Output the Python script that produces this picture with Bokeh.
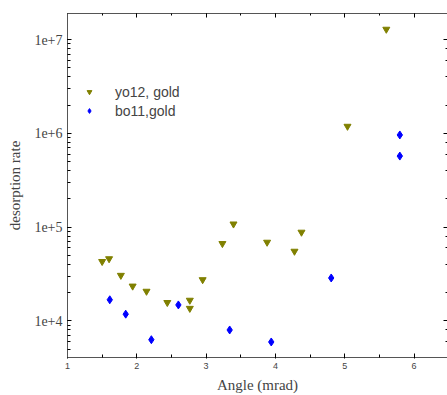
from bokeh.plotting import figure
from bokeh.models import LogAxis, LinearAxis, Legend, LegendItem, CustomJSTickFormatter, Range1d, SingleIntervalTicker
from bokeh.embed import file_html
from bokeh.resources import INLINE

# data
gold_x = [1.50, 1.60, 1.77, 1.94, 2.14, 2.44, 2.765, 2.765, 2.95, 3.235, 3.395, 3.88, 4.275, 4.376, 5.04, 5.60]
gold_y = [43000, 46000, 30600, 23500, 20700, 15700, 16600, 13600, 27500, 66800, 108000, 69000, 55300, 88300, 1.19e6, 1.29e7]
blue_x = [1.61, 1.84, 2.21, 2.60, 3.34, 3.94, 4.805, 5.795, 5.795]
blue_y = [16800, 11800, 6300, 14800, 8000, 5960, 28700, 962000, 573000]
gold_label = "yo12, gold"
blue_label = "bo11,gold"
x_label = "Angle (mrad)"
y_label = "desorption rate"

p = figure(width=447, height=395, output_backend="svg", toolbar_location=None,
           y_axis_type="log", x_range=Range1d(1, 6.483), y_range=Range1d(4070, 1.9e7),
           min_border_left=67, min_border_right=0, min_border_top=13, min_border_bottom=0)
p.outline_line_color = None
p.xgrid.visible = False
p.ygrid.visible = False
p.background_fill_color = "white"

axis_col = "#555555"
blank = CustomJSTickFormatter(code="return '';")

# bottom axis
xa = p.xaxis[0]
xa.ticker = SingleIntervalTicker(interval=1, num_minor_ticks=2)
xa.axis_line_color = axis_col
xa.major_tick_in = 4
xa.major_tick_out = 1
xa.minor_tick_in = 3
xa.minor_tick_out = 0
xa.major_tick_line_color = "black"
xa.minor_tick_line_color = "black"
xa.major_label_text_font = "Liberation Sans"
xa.major_label_text_font_size = "9px"
xa.major_label_standoff = 4
xa.axis_label = x_label
xa.axis_label_text_font = "Liberation Serif"
xa.axis_label_text_font_size = "15px"
xa.axis_label_text_font_style = "normal"
xa.axis_label_standoff = 5

# left axis
ya = p.yaxis[0]
ya.axis_line_color = axis_col
ya.major_tick_in = 4
ya.major_tick_out = 0
ya.minor_tick_in = 3
ya.minor_tick_out = 0
ya.major_tick_line_color = "black"
ya.minor_tick_line_color = "black"
ya.formatter = CustomJSTickFormatter(code="return '1e+' + Math.round(Math.log10(tick));")
ya.major_label_text_font = "Liberation Serif"
ya.major_label_text_font_size = "14px"
ya.major_label_standoff = 5
ya.axis_label = y_label
ya.axis_label_text_font = "Liberation Serif"
ya.axis_label_text_font_size = "15px"
ya.axis_label_text_font_style = "normal"
ya.axis_label_standoff = 8

# top axis (ticks only)
ta = LinearAxis(ticker=SingleIntervalTicker(interval=1, num_minor_ticks=2),
                formatter=blank,
                axis_line_color=axis_col, major_tick_in=4, major_tick_out=0,
                minor_tick_in=2, minor_tick_out=0, major_label_text_font_size="1px",
                major_label_standoff=0)
p.add_layout(ta, "above")

# right axis (ticks only, no line)
ra = LogAxis(axis_line_color=None, formatter=blank, major_tick_in=4, major_tick_out=0,
             minor_tick_in=2, minor_tick_out=0, major_label_text_font_size="1px",
             major_label_standoff=0)
p.add_layout(ra, "right")

r1 = p.scatter(gold_x, gold_y, marker="inverted_triangle", size=7,
               fill_color="#808000", line_color="#808000")
r2 = p.scatter(blue_x, blue_y, marker="diamond", size=8,
               fill_color="#0000ff", line_color="#0000ff")

legend = Legend(items=[LegendItem(label=gold_label, renderers=[r1]),
                       LegendItem(label=blue_label, renderers=[r2])],
                location=(16, 237), padding=0, spacing=0, margin=0,
                glyph_width=12, glyph_height=19, label_height=19,
                label_standoff=20, border_line_color=None,
                background_fill_alpha=0,
                label_text_font="Liberation Sans", label_text_font_size="14px")
p.add_layout(legend, "center")

open("out.html", "w").write(file_html(p, INLINE))
